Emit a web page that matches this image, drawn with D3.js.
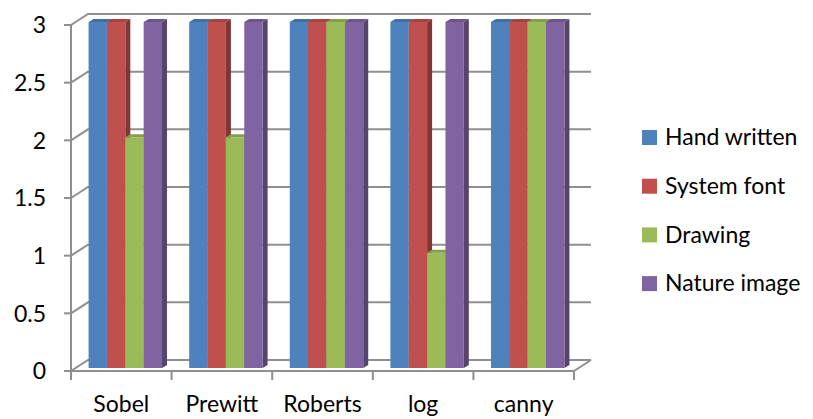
<!DOCTYPE html>
<html>
<head>
<meta charset="utf-8">
<script src="https://d3js.org/d3.v7.min.js"></script>
<style>
  body { margin: 0; background: #fff; }
  svg { display: block; }
  text { font-family: Lato, "Open Sans", sans-serif; fill: #000; }
</style>
</head>
<body>
<script>
// data
var categories = ["Sobel", "Prewitt", "Roberts", "log", "canny"];
var seriesNames = ["Hand written", "System font", "Drawing", "Nature image"];
var handWritten = [3, 3, 3, 3, 3];
var systemFont  = [3, 3, 3, 3, 3];
var drawing     = [2, 2, 3, 1, 3];
var natureImage = [3, 3, 3, 3, 3];
var yTicks = [0, 0.5, 1, 1.5, 2, 2.5, 3];

var seriesValues = [handWritten, systemFont, drawing, natureImage];
var colors = ["#4F81BD", "#C0504D", "#9BBB59", "#8064A2"];

var W = 813, H = 419;
var svg = d3.select("body").append("svg").attr("width", W).attr("height", H);

// front plane + depth of the 3d box
var x0 = 71, x1 = 574, yBot = 371, yTop = 25;
var depth = { dx: 17, dy: -11 };
var barOff = { dx: 4, dy: -3 };     // bars sit a bit behind the front plane
var barDepth = { dx: 5, dy: -3 };

var x = d3.scaleBand().domain(categories).range([x0, x1]).paddingInner(0.27).paddingOuter(0.135);
var xs = d3.scaleBand().domain(d3.range(seriesNames.length)).range([0, x.bandwidth()]);
var y = d3.scaleLinear().domain([0, 3]).range([yBot, yTop]);

var grid = "#8f8f8f";
var g = svg.append("g").attr("stroke", grid).attr("stroke-width", 2).attr("fill", "none");

// gridlines: left wall diagonal + back wall line
yTicks.forEach(function (t) {
  var yy = y(t);
  g.append("path").attr("d", "M" + x0 + "," + yy + "L" + (x0 + depth.dx) + "," + (yy + depth.dy) +
    "L" + (x1 + depth.dx) + "," + (yy + depth.dy));
  // y tick
  g.append("line").attr("x1", x0 - 7).attr("x2", x0).attr("y1", yy).attr("y2", yy);
});
// left front axis
g.append("line").attr("x1", x0).attr("x2", x0).attr("y1", yTop).attr("y2", yBot);
// floor front edge and right edge
g.append("path").attr("d", "M" + x0 + "," + yBot + "L" + x1 + "," + yBot + "L" + (x1 + depth.dx) + "," + (yBot + depth.dy));
// category ticks
d3.range(categories.length + 1).forEach(function (i) {
  var xx = x0 + i * x.step();
  g.append("line").attr("x1", xx).attr("x2", xx).attr("y1", yBot).attr("y2", yBot + 9);
});

// bars
var bars = svg.append("g");
categories.forEach(function (c, ci) {
  seriesValues.forEach(function (vals, si) {
    var v = vals[ci];
    var bx = x(c) + xs(si) + barOff.dx;
    var bw = xs.bandwidth();
    var top = y(v) + barOff.dy, bot = y(0) + barOff.dy;
    var col = d3.color(colors[si]);
    // side face
    bars.append("path")
      .attr("d", "M" + (bx + bw) + "," + bot + "L" + (bx + bw + barDepth.dx) + "," + (bot + barDepth.dy) +
        "L" + (bx + bw + barDepth.dx) + "," + (top + barDepth.dy) + "L" + (bx + bw) + "," + top + "Z")
      .attr("fill", col.darker(1.1));
    // front face
    bars.append("rect").attr("x", bx).attr("y", top).attr("width", bw).attr("height", bot - top)
      .attr("fill", col);
    // top face
    bars.append("path")
      .attr("d", "M" + bx + "," + top + "L" + (bx + barDepth.dx) + "," + (top + barDepth.dy) +
        "L" + (bx + bw + barDepth.dx) + "," + (top + barDepth.dy) + "L" + (bx + bw) + "," + top + "Z")
      .attr("fill", col.darker(0.45));
  });
});

// y labels
svg.append("g").selectAll("text").data(yTicks).enter().append("text")
  .attr("x", 46).attr("y", function (d) { return y(d); })
  .attr("dy", "0.36em").attr("text-anchor", "end").style("font-size", "23px")
  .text(function (d) { return d; });

// x labels
svg.append("g").selectAll("text").data(categories).enter().append("text")
  .attr("x", function (d) { return x(d) + x.bandwidth() / 2; })
  .attr("y", 412).attr("text-anchor", "middle").style("font-size", "23px")
  .text(function (d) { return d; });

// legend
var leg = svg.append("g").attr("transform", "translate(642,137)");
seriesNames.forEach(function (n, i) {
  var row = leg.append("g").attr("transform", "translate(0," + (i * 48.7) + ")");
  row.append("rect").attr("x", 0).attr("y", -7).attr("width", 15).attr("height", 15).attr("fill", colors[i]);
  row.append("text").attr("x", 23).attr("y", 0).attr("dy", "0.36em").style("font-size", "23px").text(n);
});
</script>
</body>
</html>
